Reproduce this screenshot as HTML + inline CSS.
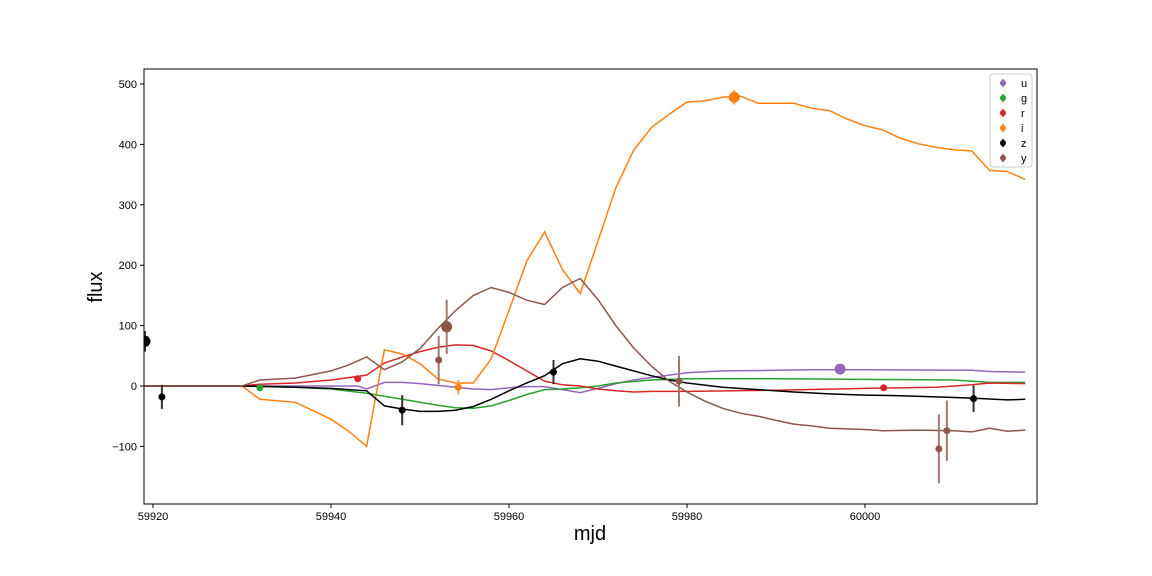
<!DOCTYPE html>
<html><head><meta charset="utf-8">
<style>
body{margin:0;background:#fff;}
svg{display:block;font-family:"Liberation Sans",sans-serif;}
</style></head>
<body>
<svg id="chart" width="1152" height="576"></svg>
<script>
const xTicks=[59920,59940,59960,59980,60000];
const yTicks=[500,400,300,200,100,0,-100];
const bands=['u','g','r','i','z','y'];
const colors={u:'#9467bd',g:'#2ca02c',r:'#d62728',i:'#ff7f0e',z:'#000000',y:'#8c564b'};
const errColors={u:'#a88bc8',g:'#5cb85c',r:'#de5a5a',i:'#ff9f4a',z:'#333333',y:'#a07a70'};
const curveMjd={
u:[59919,59930,59943,59944,59946,59948,59950,59952,59954,59956,59958,59960,59962,59964,59966,59968,59970,59972,59974,59976,59978,59980,59984,59990,59994,60000,60012,60014,60018],
g:[59919,59930,59936,59940,59944,59946,59950,59952,59954,59956,59958,59960,59962,59964,59966,59968,59970,59972,59976,59980,59990,60000,60010,60014,60018],
r:[59919,59930,59932,59936,59940,59944,59946,59948,59950,59952,59954,59956,59958,59960,59962,59964,59966,59968,59970,59972,59974,59976,59980,59990,60000,60008,60012,60014,60018],
i:[59919,59930,59932,59936,59940,59942,59944,59946,59948,59950,59952,59954,59956,59958,59960,59962,59964,59966,59968,59970,59972,59974,59976,59978,59980,59982,59984,59986,59988,59990,59992,59994,59996,59998,60000,60002,60004,60006,60008,60010,60012,60014,60016,60018],
z:[59919,59930,59936,59940,59944,59946,59948,59950,59952,59954,59956,59958,59960,59962,59964,59966,59968,59970,59972,59974,59976,59978,59980,59984,59988,59992,59996,60000,60004,60008,60012,60016,60018],
y:[59919,59930,59932,59936,59940,59942,59944,59946,59948,59950,59952,59954,59956,59958,59960,59962,59964,59966,59968,59970,59972,59974,59976,59978,59980,59982,59984,59986,59988,59990,59992,59994,59996,60000,60002,60006,60010,60012,60014,60016,60018]
};
const curveFlux={
u:[0,0,0,-5,6,6,4,1,-2,-5,-6,-3,-1,-1,-6,-11,-4,4,10,14,18,22,25,26,27,27,26,24,23],
g:[0,0,-2,-5,-12,-17,-27,-32,-36,-37,-33,-24,-14,-6,-5,-3,0,5,10,12,12,11,10,6,6],
r:[0,0,3,5,10,18,38,48,57,64,68,67,58,42,25,8,2,0,-5,-8,-10,-9,-9,-7,-4,-2,2,5,4],
i:[0,0,-22,-27,-55,-75,-100,60,53,37,12,5,5,45,125,207,255,193,153,240,328,390,428,450,470,472,478,480,468,468,468,460,456,442,431,424,410,401,395,391,389,357,355,342],
z:[0,0,-2,-4,-8,-33,-38,-42,-42,-40,-34,-22,-8,5,17,37,45,41,33,25,17,10,5,-2,-6,-10,-13,-15,-16,-18,-20,-23,-22],
y:[0,0,10,13,25,35,48,27,40,62,95,125,150,163,155,142,135,163,178,143,100,63,33,8,-10,-25,-37,-45,-50,-57,-63,-66,-70,-72,-74,-73,-74,-76,-70,-75,-73]
};
const obsBand=['z','z','z','z','z','y','y','y','y','y','r','r','g','i','i','u'];
const obsMjd=[59919.1,59921,59948,59965,60012.2,59952.1,59953,59979.1,60008.3,60009.2,59943,60002.1,59932,59954.3,59985.3,59997.2];
const obsFlux=[74,-18,-40,23,-21,43,98,8,-104,-74,12,-3,-3,-2,478,28];
const obsErr=[17,20,25,20,22,40,45,42,57,50,4,4,3,12,12,8];
const obsBig=[1,0,0,0,0,0,1,0,0,0,0,0,0,0,1,1];

const L=144,R=1037,T=69,B=504;
const xs=m=>153+(m-59920)*8.9;
const ys=f=>386-f*0.604;
const NS='http://www.w3.org/2000/svg';
const svg=document.getElementById('chart');
function mk(t,a,p){const e=document.createElementNS(NS,t);for(const k in a)e.setAttribute(k,a[k]);(p||svg).appendChild(e);return e;}

const clip=mk('clipPath',{id:'pc'});mk('rect',{x:L,y:T,width:R-L,height:B-T},clip);
const plot=mk('g',{'clip-path':'url(#pc)'});



bands.forEach(b=>{
  const pts=curveMjd[b].map((m,i)=>xs(m).toFixed(1)+','+ys(curveFlux[b][i]).toFixed(1)).join(' ');
  const pl=mk('polyline',{points:pts,fill:'none',stroke:colors[b],'stroke-width':1.5},plot);
  
  
});
obsMjd.forEach((m,i)=>{
  const b=obsBand[i];
  const g=mk('g',{},plot);
  
  
  mk('line',{x1:xs(m),x2:xs(m),y1:ys(obsFlux[i]+obsErr[i]),y2:ys(obsFlux[i]-obsErr[i]),stroke:errColors[b],'stroke-width':2},g);
  mk('circle',{cx:xs(m),cy:ys(obsFlux[i]),r:obsBig[i]?5.5:3.5,fill:colors[b]},g);
});

const ax=mk('rect',{x:L,y:T,width:R-L,height:B-T,fill:'none',stroke:'#000','stroke-width':1});


xTicks.forEach(v=>{
  mk('line',{x1:xs(v),x2:xs(v),y1:B,y2:B+4,stroke:'#000'});
  const t=mk('text',{x:xs(v),y:B+16,'font-size':11,'text-anchor':'middle'});
  t.textContent=v;
  
  
});
yTicks.forEach(v=>{
  mk('line',{x1:L-4,x2:L,y1:ys(v),y2:ys(v),stroke:'#000'});
  const t=mk('text',{x:L-7,y:ys(v)+4,'font-size':11,'text-anchor':'end'});
  t.textContent=v<0?'\u2212'+(-v):v;
  
  
});
const xl=mk('text',{x:590,y:540,'font-size':20,'text-anchor':'middle'});xl.textContent='mjd';


const yl=mk('text',{x:102,y:287,'font-size':20,'text-anchor':'middle',transform:'rotate(-90 102 287)'});yl.textContent='flux';



const lg=mk('g',{});


mk('rect',{x:990,y:74,width:42,height:93,rx:3,fill:'#fff','fill-opacity':0.8,stroke:'#ccc'},lg);
bands.forEach((b,i)=>{
  const y=83+i*15;
  const e=mk('g',{},lg);
  
  
  mk('line',{x1:1003,x2:1003,y1:y-4,y2:y+4,stroke:errColors[b],'stroke-width':2},e);
  mk('circle',{cx:1003,cy:y,r:3,fill:colors[b]},e);
  const t=mk('text',{x:1021,y:y+4,'font-size':11},e);t.textContent=b;
});
</script>
</body></html>
